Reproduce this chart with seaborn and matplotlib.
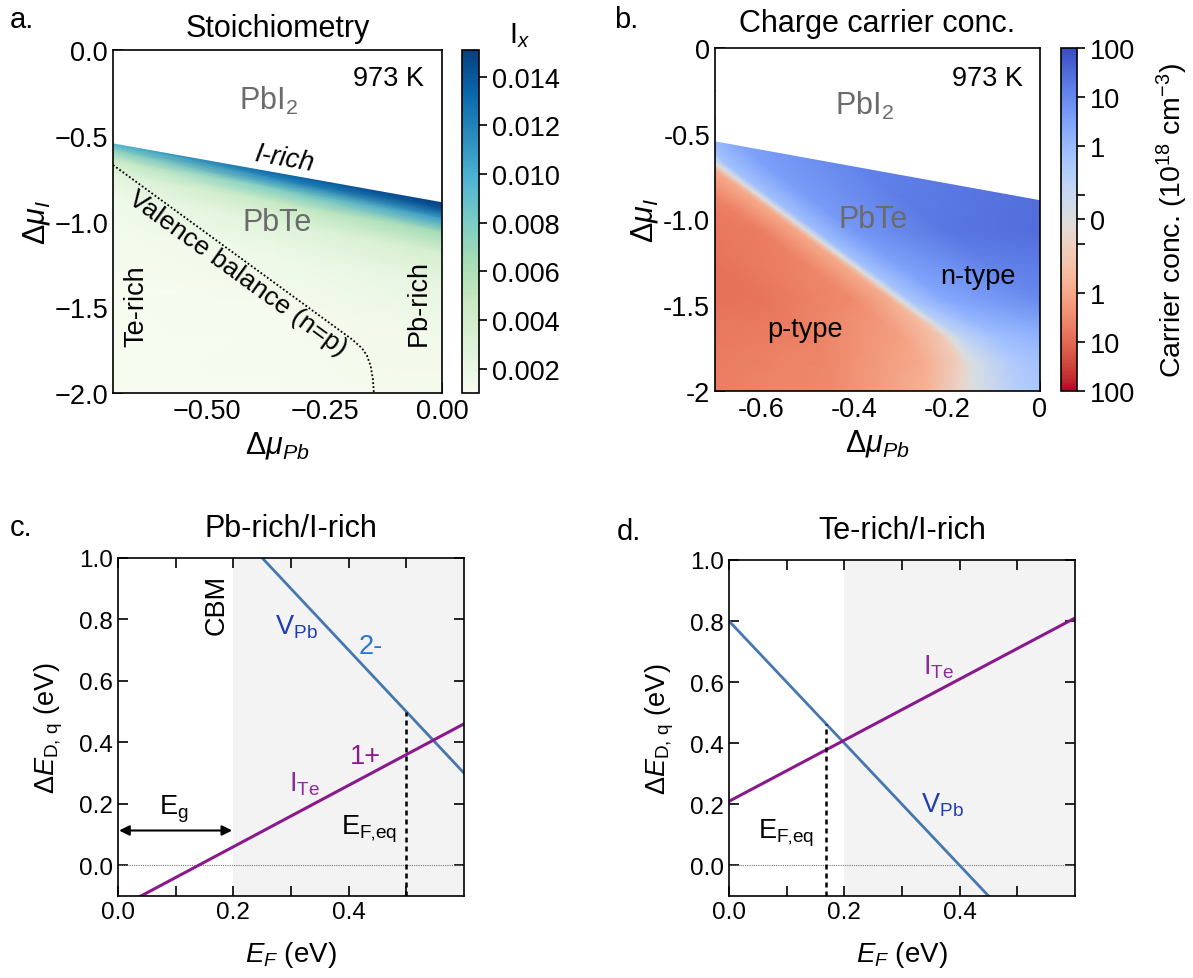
import numpy as np
import matplotlib
matplotlib.use("Agg")
import matplotlib.pyplot as plt
import matplotlib.colors as mcolors
import seaborn as sns

# ------------------------------------------------------------------ data
# Phase boundary PbTe / PbI2 (I-rich line), panels a and b
boundary_pb = [-0.70, 0.00]
boundary_i = [-0.542, -0.885]

# Valence balance (n = p) line
np_pb = [-0.70, -0.60, -0.50, -0.40, -0.30, -0.22, -0.19, -0.17, -0.16, -0.152, -0.147, -0.145]
np_i = [-0.67, -0.87, -1.07, -1.27, -1.47, -1.63, -1.69, -1.74, -1.78, -1.84, -1.92, -2.00]

# Panel a: I_x read at columns (delta mu_Pb) and depths below the I-rich line
stoich_pb = [-0.70, -0.35, 0.00]
stoich_top = [-0.542, -0.714, -0.885]
stoich_depth = [0.0, 0.04, 0.10, 0.18, 0.30, 0.50, 0.80, 1.60]
ix_left = [0.0100, 0.0075, 0.0045, 0.0026, 0.0017, 0.0013, 0.0011, 0.0010]
ix_mid = [0.0135, 0.0118, 0.0078, 0.0047, 0.0028, 0.0017, 0.0012, 0.0010]
ix_right = [0.0151, 0.0143, 0.0108, 0.0065, 0.0037, 0.0022, 0.0014, 0.0011]

# Panel b: signed carrier conc. (1e18 cm^-3, + = n-type) read on rows
# following the n=p line; columns are horizontal offsets from that line
carrier_rows_i = [-0.40, -0.67, -1.07, -1.47, -1.69, -1.84, -2.05]
carrier_rows_pb = [-0.80, -0.70, -0.50, -0.30, -0.19, -0.152, -0.145]
carrier_offsets = [-0.90, -0.30, -0.10, -0.02, 0.00, 0.02, 0.10, 0.30, 0.90]
carrier_r0 = [-10, -7, -2.5, -0.6, 0, 0.6, 3, 10, 40]
carrier_r1 = [-10, -8, -3.5, -0.8, 0, 0.6, 3.5, 12, 45]
carrier_r2 = [-10, -8, -5, -1.0, 0, 0.8, 5, 20, 55]
carrier_r3 = [-10, -7, -3, -0.7, 0, 0.5, 2.5, 9, 25]
carrier_r4 = [-9, -4.5, -1.2, -0.2, 0, 0.12, 0.7, 3, 10]
carrier_r5 = [-9, -3.5, -0.8, -0.1, 0, 0.06, 0.35, 2, 8]
carrier_r6 = [-9, -3, -0.6, -0.06, 0, 0.04, 0.25, 1.5, 6]

# Panels c and d: defect formation energies vs Fermi level
ef = [0.0, 0.6]
vpb_c = [1.5, 0.3]
ite_c = [-0.14, 0.46]
vpb_d = [0.80, -0.40]
ite_d = [0.21, 0.81]
efeq_c = 0.50
efeq_c_top = 0.50
efeq_d = 0.168
efeq_d_top = 0.462
cbm = 0.2

# ------------------------------------------------------------------ style
sns.set_style("ticks")
plt.rcParams["font.family"] = ["Liberation Sans", "DejaVu Sans"]
plt.rcParams["mathtext.fontset"] = "custom"
plt.rcParams["mathtext.rm"] = "Liberation Sans"
plt.rcParams["mathtext.it"] = "Liberation Sans:italic"
plt.rcParams["mathtext.bf"] = "Liberation Sans:bold"
plt.rcParams["axes.linewidth"] = 1.2
for k in ("text.color", "axes.labelcolor", "xtick.color", "ytick.color", "axes.edgecolor"):
    plt.rcParams[k] = "black"

TICK_AB = 19.5
TICK_CD = 17.5
LAB_AB = 22
LAB_CD = 19.5
TIT = 22
ANN = 19.5
GRAY = "#6b6b6b"
BLUE_LINE = "#4677ae"
PURPLE = "#8a1a8c"
EFEQ = "E$_{\\rm F\u201aeq}$"

fig = plt.figure(figsize=(11.93, 9.79), dpi=100)
ax_a = fig.add_axes([0.0947, 0.5975, 0.2758, 0.3504])
cax_a = fig.add_axes([0.3873, 0.5975, 0.0142, 0.3504])
ax_b = fig.add_axes([0.5993, 0.5996, 0.2724, 0.3504])
cax_b = fig.add_axes([0.8894, 0.5996, 0.0134, 0.3504])
ax_c = fig.add_axes([0.0989, 0.0838, 0.2900, 0.3453])
ax_d = fig.add_axes([0.6111, 0.0838, 0.2900, 0.3432])

# ------------------------------------------------------------------ panel a
Xa = np.tile(np.array(stoich_pb), (len(stoich_depth), 1))
Ya = np.array(stoich_top)[None, :] - np.array(stoich_depth)[:, None]
Ca = np.column_stack([ix_left, ix_mid, ix_right])
norm_a = mcolors.Normalize(vmin=0.001, vmax=0.0151)
mesh_a = ax_a.pcolormesh(Xa, Ya, Ca, shading="gouraud", cmap="GnBu", norm=norm_a, zorder=1)
ax_a.fill_between(boundary_pb, boundary_i, 0.2, color="white", zorder=2, lw=0)
ax_a.plot(np_pb, np_i, color="black", lw=1.3, ls=(0, (1, 1.2)), zorder=3)
ax_a.set_xlim(-0.7, 0.0)
ax_a.set_ylim(-2.0, 0.0)
ax_a.set_xticks([-0.5, -0.25, 0.0])
ax_a.set_xticklabels(["\u22120.50", "\u22120.25", "0.00"])
ax_a.set_yticks([0.0, -0.5, -1.0, -1.5, -2.0])
ax_a.set_yticklabels(["0.0", "\u22120.5", "\u22121.0", "\u22121.5", "\u22122.0"])
ax_a.tick_params(direction="in", length=7, width=1.2, labelsize=TICK_AB)
ax_a.set_xlabel(r"$\Delta\mu_{Pb}$", fontsize=LAB_AB, labelpad=4)
ax_a.set_ylabel(r"$\Delta\mu_{I}$", fontsize=LAB_AB, labelpad=2)
ax_a.set_title("Stoichiometry", fontsize=TIT, pad=10)
ax_a.text(-0.114, -0.165, "973 K", fontsize=ANN, ha="center", va="center", zorder=5)
ax_a.text(-0.37, -0.29, "PbI$_2$", fontsize=22, color=GRAY, ha="center", va="center", zorder=5)
ax_a.text(-0.334, -0.63, "I-rich", fontsize=ANN, style="italic", rotation=-10,
          ha="center", va="center", rotation_mode="anchor", zorder=5)
ax_a.text(-0.35, -1.0, "PbTe", fontsize=22, color=GRAY, ha="center", va="center", zorder=5)
ax_a.text(-0.435, -1.30, "Valence balance (n=p)", fontsize=19, rotation=-36,
          ha="center", va="center", rotation_mode="anchor", zorder=5)
ax_a.text(-0.651, -1.49, "Te-rich", fontsize=ANN, rotation=90, ha="center", va="center", zorder=5)
ax_a.text(-0.049, -1.47, "Pb-rich", fontsize=ANN, rotation=90, ha="center", va="center", zorder=5)

cb_a = fig.colorbar(mesh_a, cax=cax_a)
cb_a.set_ticks([0.002, 0.004, 0.006, 0.008, 0.010, 0.012, 0.014])
cb_a.set_ticklabels(["0.002", "0.004", "0.006", "0.008", "0.010", "0.012", "0.014"])
cax_a.tick_params(direction="out", length=6, width=1.2, labelsize=TICK_AB)
cb_a.outline.set_linewidth(1.2)
fig.text(520 / 1193, 1 - 36 / 979, "I$_x$", fontsize=21, ha="center", va="center")

# ------------------------------------------------------------------ panel b
carrier_vals = np.array([carrier_r0, carrier_r1, carrier_r2, carrier_r3,
                         carrier_r4, carrier_r5, carrier_r6], dtype=float)
Xb = np.array(carrier_rows_pb)[:, None] + np.array(carrier_offsets)[None, :]
Yb = np.tile(np.array(carrier_rows_i)[:, None], (1, len(carrier_offsets)))
norm_b = mcolors.SymLogNorm(linthresh=0.1, linscale=0.45, vmin=-100, vmax=100, base=10)
mesh_b = ax_b.pcolormesh(Xb, Yb, carrier_vals, shading="gouraud", cmap="coolwarm_r",
                         norm=norm_b, zorder=1)
ax_b.fill_between(boundary_pb, boundary_i, 0.2, color="white", zorder=2, lw=0)
ax_b.set_xlim(-0.7, 0.0)
ax_b.set_ylim(-2.0, 0.0)
ax_b.set_xticks([-0.6, -0.5, -0.4, -0.3, -0.2, -0.1, 0.0])
ax_b.set_xticklabels(["-0.6", "", "-0.4", "", "-0.2", "", "0"])
ax_b.set_yticks([0.0, -0.25, -0.5, -0.75, -1.0, -1.25, -1.5, -1.75, -2.0])
ax_b.set_yticklabels(["0", "", "-0.5", "", "-1.0", "", "-1.5", "", "-2"])
ax_b.tick_params(direction="in", length=7, width=1.2, labelsize=TICK_AB)
ax_b.set_xlabel(r"$\Delta\mu_{Pb}$", fontsize=LAB_AB, labelpad=4)
ax_b.set_ylabel(r"$\Delta\mu_{I}$", fontsize=LAB_AB, labelpad=2)
ax_b.set_title("Charge carrier conc.", fontsize=TIT, pad=12)
ax_b.text(-0.112, -0.173, "973 K", fontsize=ANN, ha="center", va="center", zorder=5)
ax_b.text(-0.377, -0.335, "PbI$_2$", fontsize=22, color=GRAY, ha="center", va="center", zorder=5)
ax_b.text(-0.359, -0.997, "PbTe", fontsize=22, color=GRAY, ha="center", va="center", zorder=5)
ax_b.text(-0.133, -1.328, "n-type", fontsize=ANN, ha="center", va="center", zorder=5)
ax_b.text(-0.507, -1.64, "p-type", fontsize=ANN, ha="center", va="center", zorder=5)

cb_b = fig.colorbar(mesh_b, cax=cax_b)
cb_b.set_ticks([-100, -10, -1, -0.1, 0, 0.1, 1, 10, 100])
cb_b.set_ticklabels(["100", "10", "1", "", "0", "", "1", "10", "100"])
cax_b.minorticks_off()
cax_b.tick_params(direction="out", length=6, width=1.2, labelsize=TICK_AB)
cb_b.outline.set_linewidth(1.2)
cax_b.set_ylabel("Carrier conc. (10$^{18}$ cm$^{-3}$)", fontsize=20.5, labelpad=14)

# ------------------------------------------------------------------ panels c, d
def defect_axes(ax, vpb, ite, efeq, efeq_top):
    ax.axvspan(cbm, 0.6, color="#f3f3f3", lw=0, zorder=0)
    ax.axhline(0.0, color="#777777", lw=0.8, ls=(0, (1, 1)), zorder=1)
    sns.lineplot(x=ef, y=vpb, ax=ax, color=BLUE_LINE, lw=2.0, zorder=3)
    sns.lineplot(x=ef, y=ite, ax=ax, color=PURPLE, lw=2.2, zorder=3)
    ax.plot([efeq, efeq], [-0.1, efeq_top], color="black", lw=1.8, ls=(0, (2, 1.6)), zorder=4)
    ax.set_xlim(0.0, 0.6)
    ax.set_ylim(-0.1, 1.0)
    ax.set_xticks([0.0, 0.1, 0.2, 0.3, 0.4, 0.5])
    ax.set_xticklabels(["0.0", "", "0.2", "", "0.4", ""])
    ax.set_yticks([0.0, 0.2, 0.4, 0.6, 0.8, 1.0])
    ax.set_yticklabels(["0.0", "0.2", "0.4", "0.6", "0.8", "1.0"])
    ax.tick_params(direction="in", length=7, width=1.2, labelsize=TICK_CD,
                   top=True, right=True)
    ax.set_xlabel(r"$E_F$ (eV)", fontsize=LAB_CD + 0.5, labelpad=12)
    ax.set_ylabel(r"$\Delta E_{\rm D,\,q}$ (eV)", fontsize=LAB_CD, labelpad=10)

defect_axes(ax_c, vpb_c, ite_c, efeq_c, efeq_c_top)
ax_c.set_title("Pb-rich/I-rich", fontsize=TIT, pad=16)
ax_c.text(0.171, 0.85, "CBM", fontsize=ANN, rotation=90, ha="center", va="center")
ax_c.text(0.31, 0.779, "V$_{\\rm Pb}$", fontsize=ANN, color="#1f3cb4", ha="center", va="center")
ax_c.text(0.438, 0.714, "2-", fontsize=ANN, color="#2a78d2", ha="center", va="center")
ax_c.text(0.43, 0.355, "1+", fontsize=ANN, color=PURPLE, ha="center", va="center")
ax_c.text(0.324, 0.268, "I$_{\\rm Te}$", fontsize=ANN, color="#8e2a9a", ha="center", va="center")
ax_c.text(0.097, 0.186, "E$_{\\rm g}$", fontsize=ANN, ha="center", va="center")
ax_c.annotate("", xy=(0.002, 0.113), xytext=(0.198, 0.113),
              arrowprops=dict(arrowstyle="<|-|>", color="black", lw=1.5,
                              mutation_scale=15, shrinkA=0, shrinkB=0))
ax_c.text(0.436, 0.121, EFEQ, fontsize=ANN, ha="center", va="center")

defect_axes(ax_d, vpb_d, ite_d, efeq_d, efeq_d_top)
ax_d.set_title("Te-rich/I-rich", fontsize=TIT, pad=16)
ax_d.text(0.363, 0.653, "I$_{\\rm Te}$", fontsize=ANN, color="#8e2a9a", ha="center", va="center")
ax_d.text(0.37, 0.2, "V$_{\\rm Pb}$", fontsize=ANN, color="#1f3cb4", ha="center", va="center")
ax_d.text(0.099, 0.107, EFEQ, fontsize=ANN, ha="center", va="center")

for ax in (ax_a, ax_b, ax_c, ax_d):
    for s in ax.spines.values():
        s.set_linewidth(1.2)
        s.set_zorder(6)

# panel letters
fig.text(0.008, 0.980, "a.", fontsize=21, ha="left", va="center")
fig.text(0.515, 0.980, "b.", fontsize=21, ha="left", va="center")
fig.text(0.008, 0.461, "c.", fontsize=21, ha="left", va="center")
fig.text(0.517, 0.457, "d.", fontsize=21, ha="left", va="center")

fig.savefig("out.png", dpi=100)
